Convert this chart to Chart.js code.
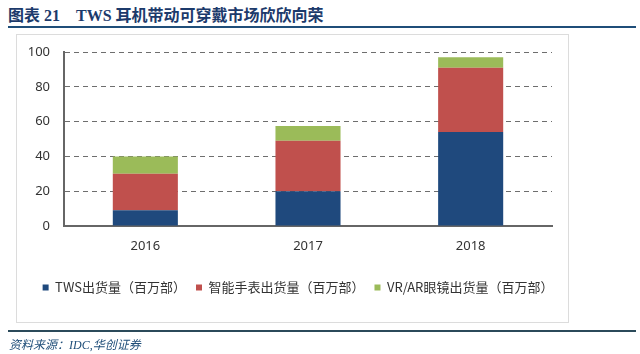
<!DOCTYPE html>
<html>
<head>
<meta charset="utf-8">
<script src="https://cdn.jsdelivr.net/npm/chart.js@4/dist/chart.umd.min.js"></script>
<style>
  body { margin: 0; background: #fff; }
  #wrap { position: relative; width: 640px; height: 354px; overflow: hidden; }
  #title { position: absolute; left: 8px; top: 2px; font: bold 16px "Liberation Serif", "Noto Sans CJK SC"; color: #1c3a6b; white-space: pre; }
  #titleLine { position: absolute; left: 8px; top: 26px; width: 628px; height: 2px; background: #1f4e79; }
  #frame { position: absolute; left: 16px; top: 34px; width: 551px; height: 287px; border: 1px solid #dcdcdc; }
  #srcLine { position: absolute; left: 8px; top: 330px; width: 628px; height: 2px; background: #2b4a5a; }
  #source { position: absolute; left: 9px; top: 335px; font: italic 12px "Liberation Serif", "Noto Sans CJK SC"; color: #1f4e79; }
  canvas { position: absolute; left: 0; top: 0; }
</style>
</head>
<body>
<div id="wrap">
  <div id="title">图表 21    TWS 耳机带动可穿戴市场欣欣向荣</div>
  <div id="titleLine"></div>
  <div id="frame"></div>
  <canvas id="chart" width="640" height="354"></canvas>
  <div id="srcLine"></div>
  <div id="source">资料来源：IDC,华创证券</div>
</div>
<script>
// values (millions of units)
const years = ['2016', '2017', '2018'];
const twsShipments = [9, 20, 54];
const watchShipments = [21, 29, 37];
const vrArShipments = [10, 8.5, 6];
const yTicks = [0, 20, 40, 60, 80, 100];

const seriesNames = ['TWS出货量（百万部）', '智能手表出货量（百万部）', 'VR/AR眼镜出货量（百万部）'];
const seriesColors = ['#1f497d', '#c0504d', '#9bbb59'];

// nudge the legend right, like in the original
const shiftLegend = {
  id: 'shiftLegend',
  afterLayout(chart) {
    chart.legend.left += 22;
    chart.legend.right += 22;
  }
};

const ctx = document.getElementById('chart');
new Chart(ctx, {
  type: 'bar',
  data: {
    labels: years,
    datasets: [twsShipments, watchShipments, vrArShipments].map((vals, i) => ({
      label: seriesNames[i],
      data: vals,
      backgroundColor: seriesColors[i],
      barPercentage: 0.4,
      categoryPercentage: 1
    }))
  },
  options: {
    responsive: false,
    animation: false,
    layout: { padding: { left: 0, right: 88, top: 52, bottom: 50 } },
    plugins: {
      legend: {
        position: 'bottom',
        labels: {
          boxWidth: 6,
          boxHeight: 6,
          padding: 10,
          color: '#333',
          font: { family: '"Noto Sans CJK SC"', size: 13 }
        }
      },
      tooltip: { enabled: false }
    },
    scales: {
      x: {
        stacked: true,
        grid: { display: false, drawTicks: false },
        border: { color: '#666', width: 2 },
        ticks: { padding: 12, color: '#333', font: { family: '"Noto Sans"', size: 13 } },
        afterFit(scale) { scale.height = 45; }
      },
      y: {
        stacked: true,
        min: yTicks[0],
        max: yTicks[yTicks.length - 1],
        afterBuildTicks(scale) { scale.ticks = yTicks.map(v => ({ value: v })); },
        grid: { color: '#6e6e6e', drawTicks: false },
        border: { color: '#666', width: 2, dash: [5, 4] },
        ticks: { padding: 14, color: '#333', font: { family: '"Noto Sans"', size: 13 } },
        afterFit(scale) { scale.width = 64; }
      }
    }
  },
  plugins: [shiftLegend]
});
</script>
</body>
</html>
